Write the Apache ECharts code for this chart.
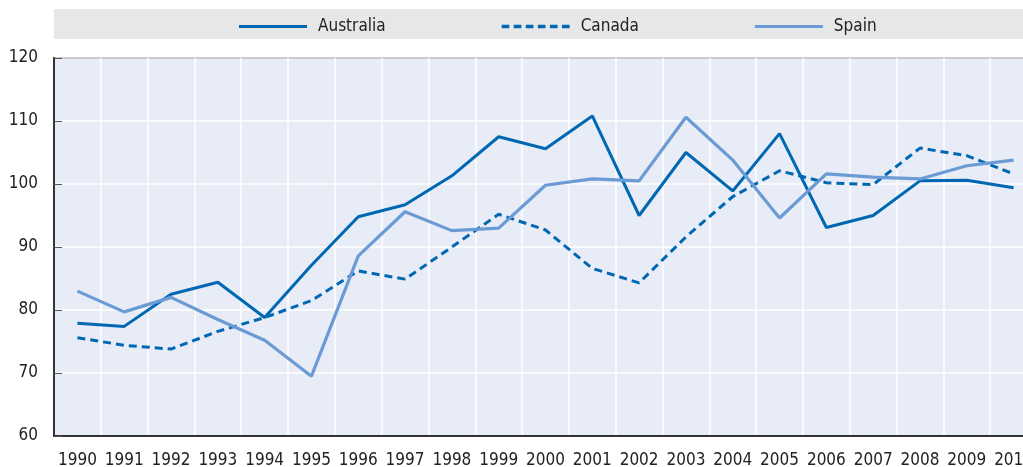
<!DOCTYPE html>
<html>
<head>
<meta charset="utf-8">
<script src="https://cdn.jsdelivr.net/npm/echarts@6/dist/echarts.min.js"></script>
<style>
html, body { margin: 0; padding: 0; background: #fff; }
#main { width: 1023px; height: 467px; }
</style>
</head>
<body>
<div id="main"></div>
<script>
var years = ['1990','1991','1992','1993','1994','1995','1996','1997','1998','1999','2000',
             '2001','2002','2003','2004','2005','2006','2007','2008','2009','2010'];
var australia = [77.9, 77.4, 82.5, 84.4, 78.8, 87.1, 94.8, 96.7, 101.3, 107.5, 105.6,
                 110.8, 95.0, 105.0, 98.9, 108.0, 93.1, 95.0, 100.5, 100.6, 99.4];
var canada = [75.6, 74.4, 73.8, 76.6, 78.8, 81.5, 86.2, 84.9, 90.0, 95.2, 92.7,
              86.6, 84.3, 91.6, 98.0, 102.1, 100.2, 99.9, 105.7, 104.5, 101.6];
var spain = [83.0, 79.7, 82.0, 78.5, 75.2, 69.5, 88.6, 95.6, 92.6, 93.0, 99.8,
             100.8, 100.5, 110.6, 103.8, 94.6, 101.6, 101.1, 100.8, 102.9, 103.8];

var font = "'DejaVu Sans Condensed', 'Liberation Sans Narrow', sans-serif";
var dark = '#0068b3';
var light = '#6b9bd4';

var chart = echarts.init(document.getElementById('main'));
var option = {
    animation: false,
    graphic: [
        {
            type: 'rect',
            z: -1,
            shape: { x: 54, y: 9, width: 969, height: 30 },
            style: { fill: '#e6e7e9' }
        }
    ],
    legend: {
        left: 234,
        top: 13,
        itemWidth: 68,
        itemHeight: 10,
        itemGap: 116,
        textStyle: { fontFamily: font, fontSize: 17, color: '#222', padding: [0, 0, 0, 6] },
        data: [
            { name: 'Australia', icon: 'path://M0,4 L68,4 L68,7 L0,7 Z' },
            { name: 'Canada', icon: 'path://M0,4 L7,4 L7,7 L0,7 Z M11,4 L18,4 L18,7 L11,7 Z M22,4 L29,4 L29,7 L22,7 Z M33,4 L40,4 L40,7 L33,7 Z M44,4 L51,4 L51,7 L44,7 Z M55,4 L62,4 L62,7 L55,7 Z' },
            { name: 'Spain', icon: 'path://M0,4 L68,4 L68,7 L0,7 Z' }
        ]
    },
    grid: {
        left: 54,
        right: -14,
        top: 58,
        bottom: 31,
        outerBoundsMode: 'none',
        show: true,
        backgroundColor: '#e8ecf7',
        borderColor: '#333',
        borderWidth: 2
    },
    xAxis: {
        type: 'category',
        data: years,
        boundaryGap: true,
        axisLine: { lineStyle: { color: '#333', width: 2 } },
        axisTick: { inside: true, length: 6, lineStyle: { color: '#555' } },
        axisLabel: { fontFamily: font, fontSize: 17, color: '#222', margin: 16, interval: 0 },
        splitLine: { show: true, lineStyle: { color: '#fff', width: 1.5 } }
    },
    yAxis: {
        type: 'value',
        min: 60,
        max: 120,
        interval: 10,
        axisLine: { show: true, lineStyle: { color: '#333', width: 2 } },
        axisTick: { show: true, inside: true, length: 8, lineStyle: { color: '#555' } },
        axisLabel: { fontFamily: font, fontSize: 17, color: '#222', margin: 16 },
        splitLine: { show: true, lineStyle: { color: '#fff', width: 1.5 } }
    },
    series: [
        {
            name: 'Australia',
            type: 'line',
            data: australia,
            symbol: 'none',
            color: dark,
            lineStyle: { color: dark, width: 3 }
        },
        {
            name: 'Canada',
            type: 'line',
            data: canada,
            symbol: 'none',
            color: dark,
            lineStyle: { color: dark, width: 3, type: [8, 5] }
        },
        {
            name: 'Spain',
            type: 'line',
            data: spain,
            symbol: 'none',
            color: light,
            lineStyle: { color: light, width: 3.2 }
        }
    ]
};
chart.setOption(option);
</script>
</body>
</html>
